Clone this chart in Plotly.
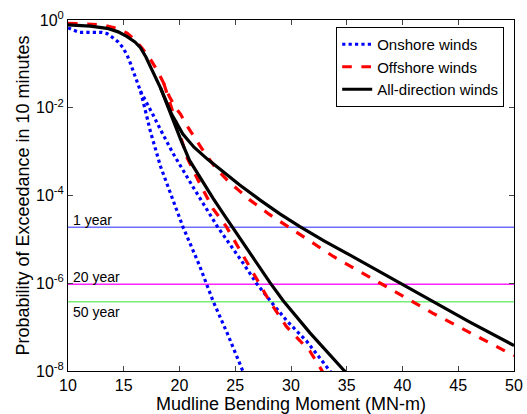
import math
import plotly.graph_objects as go

# Onshore winds (blue dotted): log10 of exceedance probability; branch a includes the shared upper part
on_a_x = [10, 10.5, 11, 13, 13.5, 14.0, 14.5, 14.9, 15.3, 15.6, 16.0, 16.5, 16.8, 17.4, 18.3, 19.4, 20.3, 21.8, 23.0, 24.3, 25.7, 26.0]
on_a_ly = [-0.18, -0.24, -0.28, -0.28, -0.31, -0.40, -0.50, -0.62, -0.80, -0.99, -1.29, -1.62, -1.92, -2.55, -3.34, -4.10, -4.71, -5.60, -6.40, -7.15, -8.0, -8.2]
on_b_x = [16.5, 17.0, 17.6, 18.5, 19.4, 21.2, 23.4, 25.7, 26.9, 28.3, 29.6, 31.4, 33.3, 33.8]
on_b_ly = [-1.62, -1.88, -2.15, -2.60, -3.03, -3.80, -4.71, -5.54, -6.00, -6.45, -6.85, -7.32, -7.92, -8.1]

# Offshore winds (red dashed)
off_a_x = [10, 13.1, 14.5, 15.3, 16.0, 16.7, 17.4, 18.0, 18.6, 19.1, 19.6, 20.1, 20.6, 21.2, 22.3, 23.4, 24.4, 25.4, 26.3, 28.0, 29.9, 33.8, 38.3, 42.7, 50]
off_a_ly = [-0.075, -0.11, -0.20, -0.30, -0.45, -0.66, -0.90, -1.15, -1.45, -1.75, -1.98, -2.15, -2.38, -2.62, -3.05, -3.42, -3.68, -3.90, -4.10, -4.42, -4.74, -5.39, -6.04, -6.68, -7.65]
off_b_x = [18.6, 19.3, 20.0, 20.7, 21.8, 23.0, 24.2, 25.2, 26.3, 27.2, 28.1, 29.6, 31.7, 32.8, 33.0]
off_b_ly = [-1.45, -2.00, -2.60, -3.15, -3.72, -4.30, -4.71, -5.15, -5.60, -6.00, -6.42, -6.99, -7.55, -8.0, -8.1]

# All-direction winds (black solid)
all_a_x = [10, 12, 13.5, 14.5, 15.3, 16.0, 16.5, 17.0, 17.4, 17.9, 18.3, 18.8, 19.3, 20.3, 21.3, 22.5, 24.0, 25.4, 27.2, 29.0, 30.8, 33.0, 35.3, 39.8, 42.7, 46, 50]
all_a_ly = [-0.11, -0.14, -0.19, -0.27, -0.38, -0.50, -0.63, -0.85, -1.07, -1.32, -1.55, -1.85, -2.15, -2.60, -2.90, -3.17, -3.48, -3.76, -4.10, -4.42, -4.71, -5.04, -5.36, -6.00, -6.42, -6.88, -7.42]
all_b_x = [18.3, 18.8, 19.4, 20.1, 20.9, 22.0, 23.0, 24.0, 24.8, 25.7, 26.6, 28.1, 29.3, 31.7, 34.8, 35.0]
all_b_ly = [-1.55, -1.88, -2.25, -2.72, -3.20, -3.66, -4.06, -4.44, -4.74, -5.08, -5.42, -5.98, -6.40, -7.13, -8.0, -8.05]

# Return-period levels
levels = [1.9e-5, 9.5e-7, 3.8e-7]
level_names = ["1 year", "20 year", "50 year"]
level_colors = ["#6f6fff", "#ff22ff", "#77ee77"]

y_tickvals = [1, 1e-2, 1e-4, 1e-6, 1e-8]
y_ticktext = ["10<sup>0</sup>", "10<sup>-2</sup>", "10<sup>-4</sup>", "10<sup>-6</sup>", "10<sup>-8</sup>"]
x_tickvals = [10, 15, 20, 25, 30, 35, 40, 45, 50]

fig = go.Figure()

for v, c in zip(levels, level_colors):
    fig.add_trace(go.Scatter(x=[10, 50], y=[v, v], mode="lines",
                             line=dict(color=c, width=1.5), showlegend=False, hoverinfo="skip"))

def p(ly):
    return [10 ** v for v in ly]

series = [
    ("Onshore winds", "#0000ff", "dot", on_a_x, on_a_ly, on_b_x, on_b_ly),
    ("Offshore winds", "#ff0000", "dash", off_a_x, off_a_ly, off_b_x, off_b_ly),
    ("All-direction winds", "#000000", "solid", all_a_x, all_a_ly, all_b_x, all_b_ly),
]
for name, col, dash, ax, aly, bx, bly in series:
    fig.add_trace(go.Scatter(x=ax, y=p(aly), mode="lines", name=name, legendgroup=name,
                             line=dict(color=col, width=3.2, dash=dash)))
    fig.add_trace(go.Scatter(x=bx, y=p(bly), mode="lines", name=name, legendgroup=name, showlegend=False,
                             line=dict(color=col, width=3.2, dash=dash)))

annots = []
for v, n in zip(levels, level_names):
    below = n == "50 year"
    annots.append(dict(x=10.3, y=math.log10(v), xref="x", yref="y", text=n, showarrow=False,
                       xanchor="left", yanchor=("top" if below else "bottom"),
                       yshift=(0 if below else -3),
                       font=dict(size=14, color="black")))

fig.update_layout(
    width=527, height=414,
    margin=dict(l=68, r=13, t=20, b=43, autoexpand=False),
    paper_bgcolor="white", plot_bgcolor="white",
    font=dict(family="Liberation Sans, Arial, sans-serif", color="black"),
    showlegend=True,
    legend=dict(x=0.978, y=0.98, xanchor="right", yanchor="top", bgcolor="white",
                bordercolor="black", borderwidth=1, font=dict(size=15),
                tracegroupgap=0),
    annotations=annots,
    xaxis=dict(range=[10, 50], tickvals=x_tickvals, ticks="inside", ticklen=5,
               showline=True, linecolor="black", linewidth=1, mirror="ticks", showgrid=False,
               zeroline=False, tickfont=dict(size=16), automargin=False,
               title=dict(text="Mudline Bending Moment (MN-m)", font=dict(size=18), standoff=0)),
    yaxis=dict(type="log", range=[-8, 0], tickvals=y_tickvals, ticktext=y_ticktext,
               ticks="inside", ticklen=5, showline=True, linecolor="black", linewidth=1,
               mirror="ticks", showgrid=False, zeroline=False, tickfont=dict(size=16), automargin=False,
               title=dict(text="Probability of Exceedance in 10 minutes", font=dict(size=18), standoff=1)),
)

fig.write_html("out.html")
